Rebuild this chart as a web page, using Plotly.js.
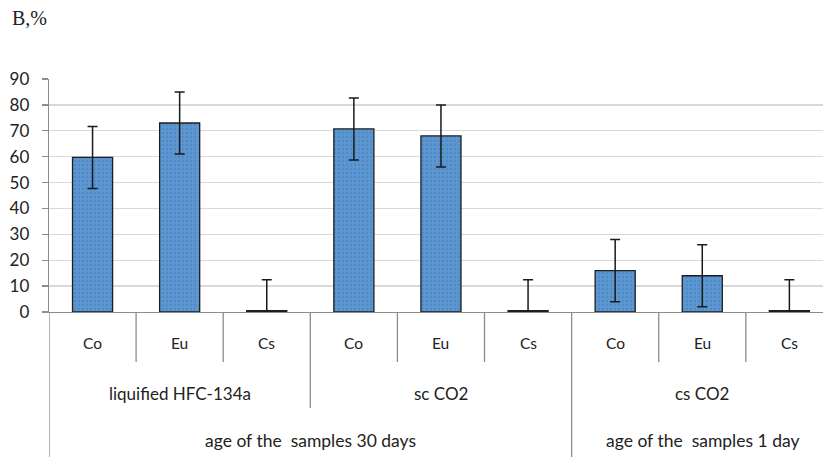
<!DOCTYPE html>
<html>
<head>
<meta charset="utf-8">
<script src="https://cdn.plot.ly/plotly-3.0.1.min.js"></script>
<style>html,body{margin:0;padding:0;background:#fff;}#chart{width:823px;height:457px;}</style>
</head>
<body>
<div id="chart"></div>
<script>
// ---- data ----
var elements = ["Co", "Eu", "Cs", "Co", "Eu", "Cs", "Co", "Eu", "Cs"];
var values = [59.7, 73, 0.5, 70.7, 68, 0.5, 16, 14, 0.5];
var errors = [12, 12, 12, 12, 12, 12, 12, 12, 12];
var methods = ["liquified HFC-134a", "sc CO2", "cs CO2"];
var methodSpans = [[0, 2], [3, 5], [6, 8]];
var ages = ["age of the  samples 30 days", "age of the  samples 1 day"];
var ageSpans = [[0, 5], [6, 8]];
var yTicks = [0, 10, 20, 30, 40, 50, 60, 70, 80, 90];

var xIdx = elements.map(function (_, i) { return i; });
var font = "Lato, 'Open Sans', sans-serif";
var txtColor = "#222222";
var lineColor = "#8c8c8c";

var trace = {
  type: "bar",
  x: xIdx,
  y: values,
  width: 0.46,
  marker: {
    color: "#5a95d1",
    line: { color: "#1e1e1e", width: 1.3 },
    pattern: { shape: ".", fgcolor: "#5089c6", bgcolor: "#5c97d2", size: 4, solidity: 0.25, fillmode: "replace" }
  },
  error_y: { type: "data", array: errors, visible: true, color: "#1a1a1a", thickness: 1.5, width: 5 },
  hoverinfo: "none"
};

var annotations = [];
elements.forEach(function (e, i) {
  annotations.push({ x: i, y: -0.135, xref: "x", yref: "paper", text: e, showarrow: false,
    font: { family: font, size: 15.5, color: txtColor }, xanchor: "center", yanchor: "middle" });
});
methods.forEach(function (m, k) {
  var c = (methodSpans[k][0] + methodSpans[k][1]) / 2;
  annotations.push({ x: c, y: -0.35, xref: "x", yref: "paper", text: m, showarrow: false,
    font: { family: font, size: 17, color: txtColor }, xanchor: "center", yanchor: "middle" });
});
ages.forEach(function (a, k) {
  var c = (ageSpans[k][0] + ageSpans[k][1]) / 2;
  annotations.push({ x: c, y: -0.553, xref: "x", yref: "paper", text: a, showarrow: false,
    font: { family: font, size: 17.5, color: txtColor }, xanchor: "center", yanchor: "middle" });
});
annotations.push({ x: (10 - 49) / 774, y: (312 - 18) / 233, xref: "paper", yref: "paper", text: "B,%", showarrow: false,
  font: { family: "'Liberation Serif', 'DejaVu Serif', serif", size: 20, color: "#222" },
  xanchor: "left", yanchor: "middle" });

var shapes = [];
var boundaryDepth = function (b) {
  var left = b - 0.5, right = b + 0.5;
  var ageOf = function (i) { for (var k = 0; k < ageSpans.length; k++) if (i >= ageSpans[k][0] && i <= ageSpans[k][1]) return k; return -1; };
  var methOf = function (i) { for (var k = 0; k < methodSpans.length; k++) if (i >= methodSpans[k][0] && i <= methodSpans[k][1]) return k; return -1; };
  if (left < 0 || ageOf(left) !== ageOf(right)) return -0.63;
  if (methOf(left) !== methOf(right)) return -0.412;
  return -0.2146;
};
for (var b = -0.5; b <= elements.length - 0.5; b += 1) {
  shapes.push({ type: "line", xref: "x", yref: "paper", x0: b, x1: b, y0: 0, y1: boundaryDepth(b),
    line: { color: lineColor, width: 1.3 } });
}

var layout = {
  width: 823, height: 457,
  margin: { l: 49, r: 0, t: 79, b: 145 },
  paper_bgcolor: "#fff", plot_bgcolor: "#fff",
  showlegend: false,
  xaxis: {
    range: [-0.5, 8.386], showticklabels: false, ticks: "", showgrid: false, zeroline: false,
    showline: true, linecolor: lineColor, linewidth: 1.3, fixedrange: true
  },
  yaxis: {
    range: [0, 90], tickvals: yTicks, ticktext: yTicks.map(String), ticks: "outside", ticklen: 6,
    tickcolor: lineColor, tickwidth: 1.3, showline: true, linecolor: lineColor, linewidth: 1.3,
    gridcolor: "#d9d9d9", gridwidth: 1.3, zeroline: false, ticklabelstandoff: 9,
    tickfont: { family: font, size: 17, color: txtColor }, fixedrange: true
  },
  annotations: annotations,
  shapes: shapes
};

Plotly.newPlot("chart", [trace], layout, { displayModeBar: false, staticPlot: true });
</script>
</body>
</html>
